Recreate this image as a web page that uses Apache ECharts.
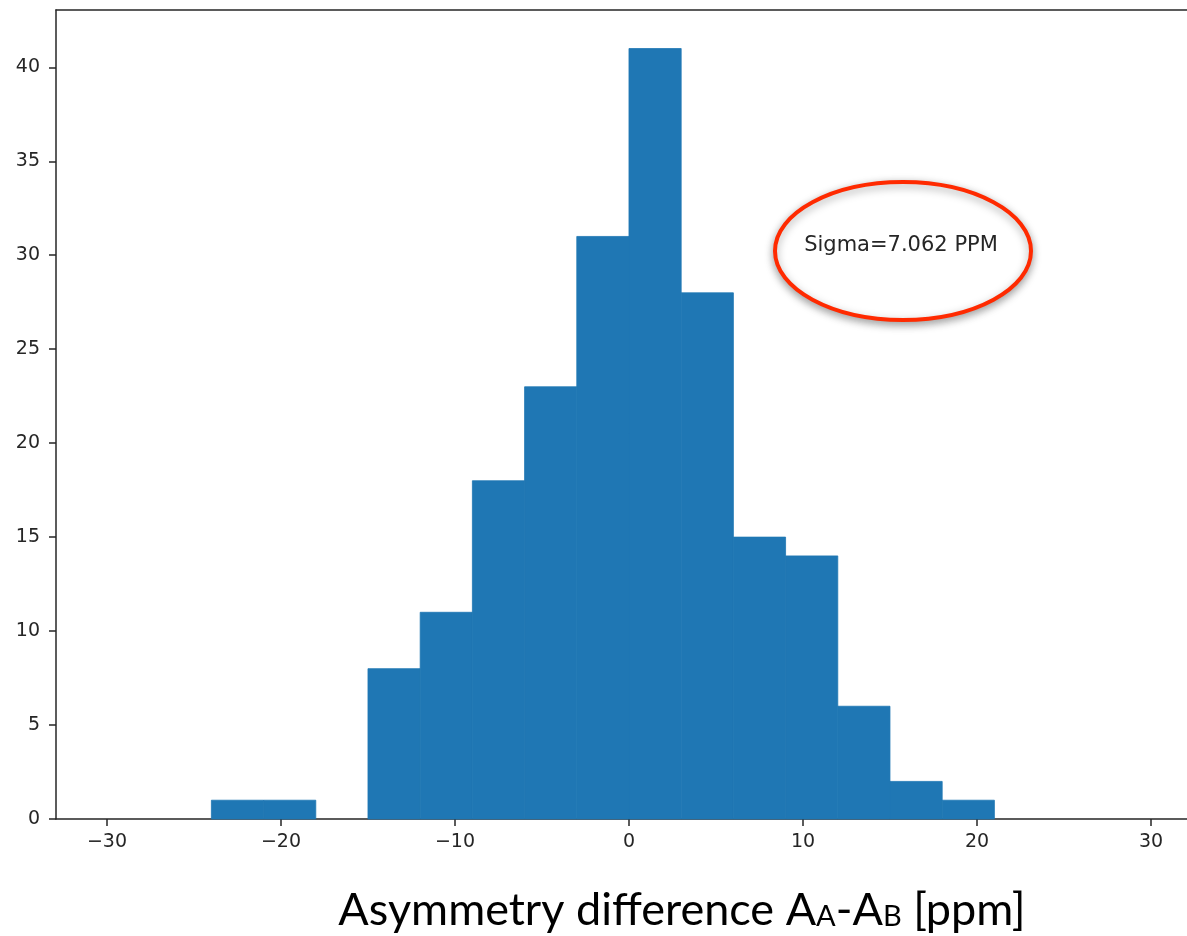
<!DOCTYPE html>
<html>
<head>
<meta charset="utf-8">
<script src="https://cdn.jsdelivr.net/npm/echarts@6/dist/echarts.min.js"></script>
<style>
html,body{margin:0;padding:0;background:#fff;}
#chart{width:1187px;height:936px;}
</style>
</head>
<body>
<div id="chart"></div>
<script>
// Histogram bin edges (left edges, width 3) and counts
const binLeft = [-24, -21, -18, -15, -12, -9, -6, -3, 0, 3, 6, 9, 12, 15, 18];
const binWidth = 3;
const counts = [1, 1, 0, 8, 11, 18, 23, 31, 41, 28, 15, 14, 6, 2, 1];
const xTicks = [-30, -20, -10, 0, 10, 20, 30];
const yTicks = [0, 5, 10, 15, 20, 25, 30, 35, 40];
const annotation = 'Sigma=7.062 PPM';

const data = binLeft.map((l, i) => [l, l + binWidth, counts[i]]);

const chart = echarts.init(document.getElementById('chart'), null, {renderer: 'canvas'});
const tickFont = {fontFamily: 'DejaVu Sans', fontSize: 19, color: '#262626'};
const fmt = v => (v < 0 ? '\u2212' + Math.abs(v) : String(v));
const spine = {color: '#262626', width: 1.5};

chart.setOption({
  animation: false,
  backgroundColor: '#ffffff',
  grid: {left: 56, top: 10, right: 0, bottom: 117, show: false},
  xAxis: [{
    type: 'value', min: -32.93, max: 32.07, position: 'bottom',
    axisLine: {show: true, onZero: false, lineStyle: spine},
    axisTick: {show: true, length: 7, lineStyle: spine, customValues: xTicks},
    axisLabel: Object.assign({margin: 14, formatter: fmt, customValues: xTicks}, tickFont),
    splitLine: {show: false}
  }, {
    type: 'value', min: -32.93, max: 32.07, position: 'top',
    axisLine: {show: true, onZero: false, lineStyle: spine},
    axisTick: {show: false}, axisLabel: {show: false}, splitLine: {show: false}
  }],
  yAxis: {
    type: 'value', min: 0, max: 43.05,
    axisLine: {show: true, onZero: false, lineStyle: spine},
    axisTick: {show: true, length: 7, lineStyle: spine, customValues: yTicks},
    axisLabel: Object.assign({margin: 16, customValues: yTicks}, tickFont),
    splitLine: {show: false}
  },
  series: [{
    type: 'custom',
    xAxisIndex: 0,
    data: data,
    encode: {x: [0, 1], y: 2},
    renderItem: function (params, api) {
      const c = api.value(2);
      if (!c) return null;
      const p0 = api.coord([api.value(0), c]);
      const p1 = api.coord([api.value(1), 0]);
      return {
        type: 'rect',
        shape: {x: p0[0], y: p0[1], width: p1[0] - p0[0], height: p1[1] - p0[1]},
        style: {fill: '#1f77b4', stroke: '#1f77b4', lineWidth: 0.8}
      };
    }
  }],
  graphic: [
    {
      type: 'ellipse',
      shape: {cx: 903, cy: 251, rx: 128, ry: 69},
      style: {fill: '#ffffff', stroke: '#ff2a00', lineWidth: 4, shadowBlur: 8, shadowColor: 'rgba(0,0,0,0.35)', shadowOffsetY: 3},
      z: 100
    },
    {
      type: 'text',
      x: 901, y: 246,
      style: {text: annotation, fontFamily: 'DejaVu Sans', fontSize: 21, fill: '#262626', align: 'center', verticalAlign: 'middle'},
      z: 101
    },
    {
      type: 'text',
      x: 682, y: 910,
      style: {
        text: 'Asymmetry difference A{sub|A}-A{sub|B} [ppm]',
        fontFamily: 'Lato', fontSize: 45, fill: '#000000', align: 'center', verticalAlign: 'middle',
        rich: {sub: {fontFamily: 'Lato', fontSize: 29, fill: '#000000', padding: [14, 0, 0, 0]}}
      },
      z: 101
    }
  ]
});
</script>
</body>
</html>
